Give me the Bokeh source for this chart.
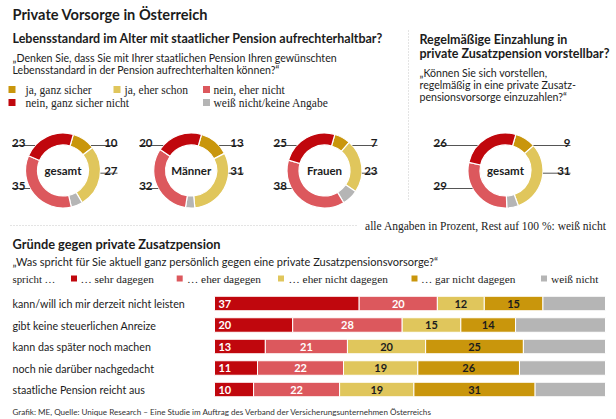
import numpy as np
from bokeh.plotting import figure
from bokeh.models import Range1d, Label, ColumnDataSource
from bokeh.core.properties import value
from bokeh.embed import file_html
from bokeh.resources import INLINE

W, H = 616, 419

# ---------------- data ----------------
donut_groups = ["gesamt", "Männer", "Frauen", "gesamt"]
ja_ganz_sicher = [10, 13, 7, 9]
ja_eher_schon = [27, 31, 23, 31]
nein_eher_nicht = [35, 32, 38, 29]
nein_ganz_sicher_nicht = [23, 20, 25, 26]
donut_legend = ["ja, ganz sicher", "ja, eher schon", "nein, eher nicht",
                "nein, ganz sicher nicht", "weiß nicht/keine Angabe"]

reasons = ["kann/will ich mir derzeit nicht leisten", "gibt keine steuerlichen Anreize",
           "kann das später noch machen", "noch nie darüber nachgedacht",
           "staatliche Pension reicht aus"]
sehr_dagegen = [37, 20, 13, 11, 10]
eher_dagegen = [20, 28, 21, 22, 22]
eher_nicht_dagegen = [12, 15, 20, 19, 19]
gar_nicht_dagegen = [15, 14, 25, 26, 31]
bar_legend = ["… sehr dagegen", "… eher dagegen", "… eher nicht dagegen",
              "… gar nicht dagegen", "weiß nicht"]

# ---------------- styles ----------------
DARK_RED = "#c0070d"
LIGHT_RED = "#dc585d"
YELLOW = "#e0c65c"
GOLD = "#c9960c"
GREY = "#b5b5b5"
INK = "#1c1c1c"
SANS = "Lato"
SERIF = "Liberation Serif"

p = figure(width=W, height=H, x_range=Range1d(0, W), y_range=Range1d(0, H),
           output_backend="svg", toolbar_location=None, min_border=0,
           x_axis_location=None, y_axis_location=None)
p.grid.visible = False
p.outline_line_color = None
p.background_fill_color = "white"
p.border_fill_color = "white"

# scales for the bar chart: percent -> pixels, row index -> pixels
bar_x0, px_per_pct = 214.0, 3.91
row_y0, row_step = 303.0, 21.5
p.extra_x_ranges = {"pct": Range1d(-bar_x0 / px_per_pct, (W - bar_x0) / px_per_pct)}
p.extra_y_ranges = {"rows": Range1d((H - row_y0) / row_step, -row_y0 / row_step)}


def Y(v):
    return H - v


def txt(x, y, s, size, font=SANS, style="normal", color=INK, align="left", baseline="middle"):
    p.add_layout(Label(x=x, y=Y(y), text=s, text_font=font, text_font_size=f"{size}px",
                       text_font_style=style, text_color=color, text_align=align,
                       text_baseline=baseline))


# ---------------- headings ----------------
txt(12, 14, "Private Vorsorge in Österreich", 14.6, style="bold")
txt(12, 38, "Lebensstandard im Alter mit staatlicher Pension aufrechterhaltbar?", 12.5, style="bold")
txt(12, 57, "„Denken Sie, dass Sie mit Ihrer staatlichen Pension Ihren gewünschten", 10.6)
txt(12, 69, "Lebensstandard in der Pension aufrechterhalten können?“", 10.6)

txt(419, 39, "Regelmäßige Einzahlung in", 12.5, style="bold")
txt(419, 53, "private Zusatzpension vorstellbar?", 12.5, style="bold")
txt(419, 72, "„Können Sie sich vorstellen,", 10.6)
txt(419, 84, "regelmäßig in eine private Zusatz-", 10.6)
txt(419, 96, "pensionsvorsorge einzuzahlen?“", 10.6)

# top legend
leg_colors = [GOLD, YELLOW, LIGHT_RED, DARK_RED, GREY]
leg_sq_x = [11.5, 116.5, 206, 11.5, 206]
leg_tx_x = [25, 124, 213, 25, 213]
leg_y = [89, 89, 89, 102, 102]
p.rect(x=leg_sq_x, y=[Y(v) for v in leg_y], width=7, height=7, fill_color=leg_colors, line_color=None)
for lx, ly, s in zip(leg_tx_x, leg_y, donut_legend):
    txt(lx, ly, s, 11.5, font=SERIF, color="#222")

# separators
p.line([408, 408], [Y(30), Y(200)], line_color="#c8c8c8", line_width=1, line_dash="1 2")
p.line([10, 358], [Y(225), Y(225)], line_color="#c8c8c8", line_width=1, line_dash="1 2")
txt(606, 225, "alle Angaben in Prozent, Rest auf 100 %: weiß nicht", 11.5, font=SERIF, color="#222", align="right")

# ---------------- donuts ----------------
centers = [62.5, 190.7, 324.0, 505.0]
cy = 170.0
r_out, r_in = 37.5, 25.5
left_off = [-51, -52, -51, -72]
right_off = [54.5, 52.5, 53, 65]
theta0 = 16.0

ws = dict(x=[], y=[], s=[], e=[], c=[])
nums = dict(x=[], y=[], t=[], a=[])
lx0, lx1, ly = [], [], []
for i, c in enumerate(centers):
    rest = 100 - (ja_ganz_sicher[i] + ja_eher_schon[i] + nein_eher_nicht[i] + nein_ganz_sicher_nicht[i])
    vals = [ja_ganz_sicher[i], ja_eher_schon[i], rest, nein_eher_nicht[i], nein_ganz_sicher_nicht[i]]
    cols = [GOLD, YELLOW, GREY, LIGHT_RED, DARK_RED]
    cw = theta0
    for v, col in zip(vals, cols):
        a0, a1 = cw, cw + 3.6 * v
        ws["x"].append(c); ws["y"].append(Y(cy))
        ws["s"].append(np.radians(90 - a1)); ws["e"].append(np.radians(90 - a0))
        ws["c"].append(col)
        cw = a1
    # label lines: (value, line y offset, side)
    specs = [(nein_ganz_sicher_nicht[i], -25.0, "L"), (ja_ganz_sicher[i], -25.0, "R"),
             (ja_eher_schon[i], 2.7, "R"), (nein_eher_nicht[i], 18.0, "L")]
    for v, dy, side in specs:
        edge = np.sqrt(r_out ** 2 - dy ** 2)
        yy = cy + dy
        if side == "L":
            x_end = c + left_off[i]
            lx0.append(x_end); lx1.append(c - edge)
            nums["x"].append(x_end); nums["a"].append("left")
        else:
            x_end = c + right_off[i]
            lx0.append(c + edge); lx1.append(x_end)
            nums["x"].append(x_end); nums["a"].append("right")
        ly.append(Y(yy))
        nums["y"].append(Y(yy - 2.5)); nums["t"].append(str(v))

p.annular_wedge(x="x", y="y", inner_radius=r_in, outer_radius=r_out, start_angle="s", end_angle="e",
                fill_color="c", line_color="white", line_width=1.2, source=ColumnDataSource(ws))
p.segment(x0=lx0, y0=ly, x1=lx1, y1=ly, line_color="#555555", line_width=1)
p.text(x="x", y="y", text="t", text_align="a", text_baseline="alphabetic",
       text_font=value(SANS), text_font_style="bold", text_font_size="11.5px",
       text_color=INK, source=ColumnDataSource(nums))
p.text(x=centers, y=[Y(cy)] * 4, text=donut_groups, text_align="center", text_baseline="middle",
       text_font=value(SANS), text_font_style="bold", text_font_size="11.5px", text_color=INK)

# ---------------- bar section ----------------
txt(12, 243, "Gründe gegen private Zusatzpension", 12.8, style="bold")
txt(12, 261, "„Was spricht für Sie aktuell ganz persönlich gegen eine private Zusatzpensionsvorsorge?“", 11)
txt(12, 278, "spricht …", 10.8, font=SERIF, color="#222")
bar_colors = [DARK_RED, LIGHT_RED, YELLOW, GOLD, GREY]
bl_sq = [73.5, 179.2, 280.5, 414, 543.5]
bl_tx = [80, 186.5, 288, 420.5, 550.5]
p.rect(x=bl_sq, y=[Y(278)] * 5, width=6, height=6, fill_color=bar_colors, line_color=None)
for bx, s in zip(bl_tx, bar_legend):
    txt(bx, 278, s, 11.3, font=SERIF, color="#222")

series = [sehr_dagegen, eher_dagegen, eher_nicht_dagegen, gar_nicht_dagegen]
rows = list(range(len(reasons)))
left = np.zeros(len(reasons))
bars = dict(y=[], l=[], r=[], c=[])
labs = dict(x=[], y=[], t=[], a=[], c=[])
for k, ser in enumerate(series):
    ser = np.array(ser, dtype=float)
    for j in rows:
        bars["y"].append(j); bars["l"].append(left[j]); bars["r"].append(left[j] + ser[j])
        bars["c"].append(bar_colors[k])
        if k == 0:
            labs["x"].append(left[j] + 1.0); labs["a"].append("left")
        else:
            labs["x"].append(left[j] + ser[j] / 2); labs["a"].append("center")
        labs["y"].append(j); labs["t"].append(str(int(ser[j])))
        labs["c"].append("white" if k < 2 else INK)
    left = left + ser
for j in rows:
    bars["y"].append(j); bars["l"].append(left[j]); bars["r"].append(100)
    bars["c"].append(GREY)

p.hbar(y="y", left="l", right="r", height=14.5 / row_step, fill_color="c", line_color="white",
       line_width=1, source=ColumnDataSource(bars), x_range_name="pct", y_range_name="rows")
p.text(x="x", y="y", text="t", text_align="a", text_baseline="middle", text_color="c",
       text_font=value(SANS), text_font_style="bold", text_font_size="11px",
       source=ColumnDataSource(labs), x_range_name="pct", y_range_name="rows")
p.text(x=[12] * len(reasons), y=rows, text=reasons, text_align="left", text_baseline="middle",
       text_font=value(SANS), text_font_size="10.7px", text_color=INK, y_range_name="rows")

txt(12, 411, "Grafik: ME, Quelle: Unique Research – Eine Studie im Auftrag des Verband der Versicherungsunternehmen Österreichs",
    8.1, color="#333")

open("out.html", "w").write(file_html(p, INLINE))
